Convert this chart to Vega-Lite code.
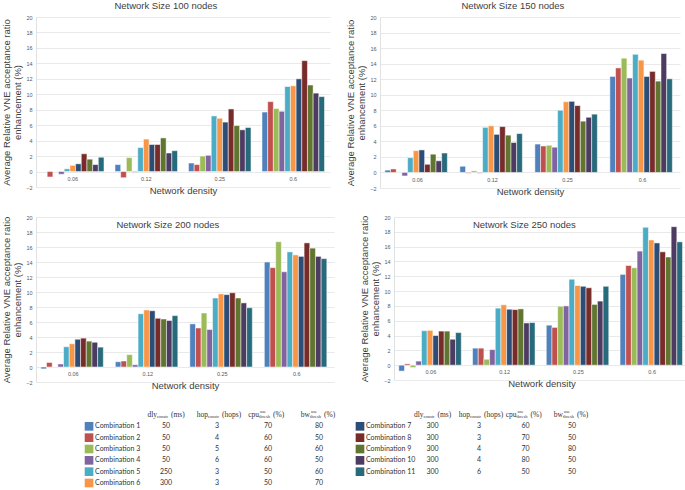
{
  "$schema": "https://vega.github.io/schema/vega-lite/v6.json",
  "padding": {"left": 1, "top": 0, "right": 0, "bottom": 0},
  "datasets": {
    "bars": [
      {"size":"100","density":"0.06","combo":"Combination 1","value":0},
      {"size":"100","density":"0.06","combo":"Combination 2","value":-0.7},
      {"size":"100","density":"0.06","combo":"Combination 3","value":0},
      {"size":"100","density":"0.06","combo":"Combination 4","value":-0.35},
      {"size":"100","density":"0.06","combo":"Combination 5","value":0.35},
      {"size":"100","density":"0.06","combo":"Combination 6","value":0.8},
      {"size":"100","density":"0.06","combo":"Combination 7","value":1.0},
      {"size":"100","density":"0.06","combo":"Combination 8","value":2.3},
      {"size":"100","density":"0.06","combo":"Combination 9","value":1.6},
      {"size":"100","density":"0.06","combo":"Combination 10","value":0.9},
      {"size":"100","density":"0.06","combo":"Combination 11","value":1.85},
      {"size":"100","density":"0.12","combo":"Combination 1","value":0.9},
      {"size":"100","density":"0.12","combo":"Combination 2","value":-0.8},
      {"size":"100","density":"0.12","combo":"Combination 3","value":1.8},
      {"size":"100","density":"0.12","combo":"Combination 4","value":-0.1},
      {"size":"100","density":"0.12","combo":"Combination 5","value":3.1},
      {"size":"100","density":"0.12","combo":"Combination 6","value":4.2},
      {"size":"100","density":"0.12","combo":"Combination 7","value":3.5},
      {"size":"100","density":"0.12","combo":"Combination 8","value":3.5},
      {"size":"100","density":"0.12","combo":"Combination 9","value":4.35},
      {"size":"100","density":"0.12","combo":"Combination 10","value":2.4},
      {"size":"100","density":"0.12","combo":"Combination 11","value":2.7},
      {"size":"100","density":"0.25","combo":"Combination 1","value":1.1},
      {"size":"100","density":"0.25","combo":"Combination 2","value":0.9},
      {"size":"100","density":"0.25","combo":"Combination 3","value":2.0},
      {"size":"100","density":"0.25","combo":"Combination 4","value":2.1},
      {"size":"100","density":"0.25","combo":"Combination 5","value":7.2},
      {"size":"100","density":"0.25","combo":"Combination 6","value":6.9},
      {"size":"100","density":"0.25","combo":"Combination 7","value":6.4},
      {"size":"100","density":"0.25","combo":"Combination 8","value":8.1},
      {"size":"100","density":"0.25","combo":"Combination 9","value":5.95},
      {"size":"100","density":"0.25","combo":"Combination 10","value":5.4},
      {"size":"100","density":"0.25","combo":"Combination 11","value":5.7},
      {"size":"100","density":"0.6","combo":"Combination 1","value":7.7},
      {"size":"100","density":"0.6","combo":"Combination 2","value":9.05},
      {"size":"100","density":"0.6","combo":"Combination 3","value":8.15},
      {"size":"100","density":"0.6","combo":"Combination 4","value":7.8},
      {"size":"100","density":"0.6","combo":"Combination 5","value":11.0},
      {"size":"100","density":"0.6","combo":"Combination 6","value":11.1},
      {"size":"100","density":"0.6","combo":"Combination 7","value":12.0},
      {"size":"100","density":"0.6","combo":"Combination 8","value":14.35},
      {"size":"100","density":"0.6","combo":"Combination 9","value":11.2},
      {"size":"100","density":"0.6","combo":"Combination 10","value":10.15},
      {"size":"100","density":"0.6","combo":"Combination 11","value":9.7},

      {"size":"150","density":"0.06","combo":"Combination 1","value":0.3},
      {"size":"150","density":"0.06","combo":"Combination 2","value":0.45},
      {"size":"150","density":"0.06","combo":"Combination 3","value":0.05},
      {"size":"150","density":"0.06","combo":"Combination 4","value":-0.45},
      {"size":"150","density":"0.06","combo":"Combination 5","value":1.9},
      {"size":"150","density":"0.06","combo":"Combination 6","value":2.8},
      {"size":"150","density":"0.06","combo":"Combination 7","value":2.9},
      {"size":"150","density":"0.06","combo":"Combination 8","value":1.05},
      {"size":"150","density":"0.06","combo":"Combination 9","value":2.35},
      {"size":"150","density":"0.06","combo":"Combination 10","value":1.5},
      {"size":"150","density":"0.06","combo":"Combination 11","value":2.5},
      {"size":"150","density":"0.12","combo":"Combination 1","value":0.8},
      {"size":"150","density":"0.12","combo":"Combination 2","value":-0.1},
      {"size":"150","density":"0.12","combo":"Combination 3","value":0.2},
      {"size":"150","density":"0.12","combo":"Combination 4","value":-0.1},
      {"size":"150","density":"0.12","combo":"Combination 5","value":5.8},
      {"size":"150","density":"0.12","combo":"Combination 6","value":6.0},
      {"size":"150","density":"0.12","combo":"Combination 7","value":4.9},
      {"size":"150","density":"0.12","combo":"Combination 8","value":5.9},
      {"size":"150","density":"0.12","combo":"Combination 9","value":4.8},
      {"size":"150","density":"0.12","combo":"Combination 10","value":3.85},
      {"size":"150","density":"0.12","combo":"Combination 11","value":5.0},
      {"size":"150","density":"0.25","combo":"Combination 1","value":3.65},
      {"size":"150","density":"0.25","combo":"Combination 2","value":3.4},
      {"size":"150","density":"0.25","combo":"Combination 3","value":3.5},
      {"size":"150","density":"0.25","combo":"Combination 4","value":3.25},
      {"size":"150","density":"0.25","combo":"Combination 5","value":8.0},
      {"size":"150","density":"0.25","combo":"Combination 6","value":9.1},
      {"size":"150","density":"0.25","combo":"Combination 7","value":9.15},
      {"size":"150","density":"0.25","combo":"Combination 8","value":8.6},
      {"size":"150","density":"0.25","combo":"Combination 9","value":6.6},
      {"size":"150","density":"0.25","combo":"Combination 10","value":7.1},
      {"size":"150","density":"0.25","combo":"Combination 11","value":7.5},
      {"size":"150","density":"0.6","combo":"Combination 1","value":12.35},
      {"size":"150","density":"0.6","combo":"Combination 2","value":13.45},
      {"size":"150","density":"0.6","combo":"Combination 3","value":14.7},
      {"size":"150","density":"0.6","combo":"Combination 4","value":12.15},
      {"size":"150","density":"0.6","combo":"Combination 5","value":15.2},
      {"size":"150","density":"0.6","combo":"Combination 6","value":14.45},
      {"size":"150","density":"0.6","combo":"Combination 7","value":12.35},
      {"size":"150","density":"0.6","combo":"Combination 8","value":13.0},
      {"size":"150","density":"0.6","combo":"Combination 9","value":11.75},
      {"size":"150","density":"0.6","combo":"Combination 10","value":15.3},
      {"size":"150","density":"0.6","combo":"Combination 11","value":12.05},

      {"size":"200","density":"0.06","combo":"Combination 1","value":-0.25},
      {"size":"200","density":"0.06","combo":"Combination 2","value":0.6},
      {"size":"200","density":"0.06","combo":"Combination 3","value":-0.05},
      {"size":"200","density":"0.06","combo":"Combination 4","value":0.4},
      {"size":"200","density":"0.06","combo":"Combination 5","value":2.7},
      {"size":"200","density":"0.06","combo":"Combination 6","value":3.1},
      {"size":"200","density":"0.06","combo":"Combination 7","value":3.7},
      {"size":"200","density":"0.06","combo":"Combination 8","value":3.85},
      {"size":"200","density":"0.06","combo":"Combination 9","value":3.45},
      {"size":"200","density":"0.06","combo":"Combination 10","value":3.3},
      {"size":"200","density":"0.06","combo":"Combination 11","value":2.65},
      {"size":"200","density":"0.12","combo":"Combination 1","value":0.7},
      {"size":"200","density":"0.12","combo":"Combination 2","value":0.8},
      {"size":"200","density":"0.12","combo":"Combination 3","value":1.65},
      {"size":"200","density":"0.12","combo":"Combination 4","value":0.3},
      {"size":"200","density":"0.12","combo":"Combination 5","value":7.1},
      {"size":"200","density":"0.12","combo":"Combination 6","value":7.6},
      {"size":"200","density":"0.12","combo":"Combination 7","value":7.5},
      {"size":"200","density":"0.12","combo":"Combination 8","value":6.5},
      {"size":"200","density":"0.12","combo":"Combination 9","value":6.4},
      {"size":"200","density":"0.12","combo":"Combination 10","value":6.2},
      {"size":"200","density":"0.12","combo":"Combination 11","value":6.85},
      {"size":"200","density":"0.25","combo":"Combination 1","value":5.75},
      {"size":"200","density":"0.25","combo":"Combination 2","value":5.2},
      {"size":"200","density":"0.25","combo":"Combination 3","value":7.2},
      {"size":"200","density":"0.25","combo":"Combination 4","value":5.0},
      {"size":"200","density":"0.25","combo":"Combination 5","value":9.2},
      {"size":"200","density":"0.25","combo":"Combination 6","value":9.75},
      {"size":"200","density":"0.25","combo":"Combination 7","value":9.65},
      {"size":"200","density":"0.25","combo":"Combination 8","value":9.9},
      {"size":"200","density":"0.25","combo":"Combination 9","value":9.2},
      {"size":"200","density":"0.25","combo":"Combination 10","value":8.55},
      {"size":"200","density":"0.25","combo":"Combination 11","value":7.9},
      {"size":"200","density":"0.6","combo":"Combination 1","value":14.0},
      {"size":"200","density":"0.6","combo":"Combination 2","value":13.25},
      {"size":"200","density":"0.6","combo":"Combination 3","value":16.7},
      {"size":"200","density":"0.6","combo":"Combination 4","value":12.7},
      {"size":"200","density":"0.6","combo":"Combination 5","value":15.35},
      {"size":"200","density":"0.6","combo":"Combination 6","value":14.95},
      {"size":"200","density":"0.6","combo":"Combination 7","value":14.75},
      {"size":"200","density":"0.6","combo":"Combination 8","value":16.55},
      {"size":"200","density":"0.6","combo":"Combination 9","value":15.85},
      {"size":"200","density":"0.6","combo":"Combination 10","value":14.75},
      {"size":"200","density":"0.6","combo":"Combination 11","value":14.45},

      {"size":"250","density":"0.06","combo":"Combination 1","value":-0.8},
      {"size":"250","density":"0.06","combo":"Combination 2","value":0.18},
      {"size":"250","density":"0.06","combo":"Combination 3","value":-0.3},
      {"size":"250","density":"0.06","combo":"Combination 4","value":0.55},
      {"size":"250","density":"0.06","combo":"Combination 5","value":4.65},
      {"size":"250","density":"0.06","combo":"Combination 6","value":4.7},
      {"size":"250","density":"0.06","combo":"Combination 7","value":4.0},
      {"size":"250","density":"0.06","combo":"Combination 8","value":4.6},
      {"size":"250","density":"0.06","combo":"Combination 9","value":4.6},
      {"size":"250","density":"0.06","combo":"Combination 10","value":3.5},
      {"size":"250","density":"0.06","combo":"Combination 11","value":4.4},
      {"size":"250","density":"0.12","combo":"Combination 1","value":2.3},
      {"size":"250","density":"0.12","combo":"Combination 2","value":2.3},
      {"size":"250","density":"0.12","combo":"Combination 3","value":0.8},
      {"size":"250","density":"0.12","combo":"Combination 4","value":2.1},
      {"size":"250","density":"0.12","combo":"Combination 5","value":7.7},
      {"size":"250","density":"0.12","combo":"Combination 6","value":8.15},
      {"size":"250","density":"0.12","combo":"Combination 7","value":7.55},
      {"size":"250","density":"0.12","combo":"Combination 8","value":7.5},
      {"size":"250","density":"0.12","combo":"Combination 9","value":7.6},
      {"size":"250","density":"0.12","combo":"Combination 10","value":5.7},
      {"size":"250","density":"0.12","combo":"Combination 11","value":5.75},
      {"size":"250","density":"0.25","combo":"Combination 1","value":5.4},
      {"size":"250","density":"0.25","combo":"Combination 2","value":5.1},
      {"size":"250","density":"0.25","combo":"Combination 3","value":7.95},
      {"size":"250","density":"0.25","combo":"Combination 4","value":8.0},
      {"size":"250","density":"0.25","combo":"Combination 5","value":11.6},
      {"size":"250","density":"0.25","combo":"Combination 6","value":10.75},
      {"size":"250","density":"0.25","combo":"Combination 7","value":10.65},
      {"size":"250","density":"0.25","combo":"Combination 8","value":10.45},
      {"size":"250","density":"0.25","combo":"Combination 9","value":8.2},
      {"size":"250","density":"0.25","combo":"Combination 10","value":8.65},
      {"size":"250","density":"0.25","combo":"Combination 11","value":10.65},
      {"size":"250","density":"0.6","combo":"Combination 1","value":12.25},
      {"size":"250","density":"0.6","combo":"Combination 2","value":13.45},
      {"size":"250","density":"0.6","combo":"Combination 3","value":13.15},
      {"size":"250","density":"0.6","combo":"Combination 4","value":15.4},
      {"size":"250","density":"0.6","combo":"Combination 5","value":18.6},
      {"size":"250","density":"0.6","combo":"Combination 6","value":16.9},
      {"size":"250","density":"0.6","combo":"Combination 7","value":16.5},
      {"size":"250","density":"0.6","combo":"Combination 8","value":15.3},
      {"size":"250","density":"0.6","combo":"Combination 9","value":14.6},
      {"size":"250","density":"0.6","combo":"Combination 10","value":18.7},
      {"size":"250","density":"0.6","combo":"Combination 11","value":16.65}
    ],
    "combos": [
      {"combo":"Combination 1","side":"left","dly":"50","hop":"3","cpu":"70","bw":"80"},
      {"combo":"Combination 2","side":"left","dly":"50","hop":"4","cpu":"60","bw":"50"},
      {"combo":"Combination 3","side":"left","dly":"50","hop":"5","cpu":"60","bw":"60"},
      {"combo":"Combination 4","side":"left","dly":"50","hop":"6","cpu":"60","bw":"50"},
      {"combo":"Combination 5","side":"left","dly":"250","hop":"3","cpu":"50","bw":"60"},
      {"combo":"Combination 6","side":"left","dly":"300","hop":"3","cpu":"50","bw":"70"},
      {"combo":"Combination 7","side":"right","dly":"300","hop":"3","cpu":"60","bw":"50"},
      {"combo":"Combination 8","side":"right","dly":"300","hop":"3","cpu":"70","bw":"50"},
      {"combo":"Combination 9","side":"right","dly":"300","hop":"4","cpu":"70","bw":"80"},
      {"combo":"Combination 10","side":"right","dly":"300","hop":"4","cpu":"80","bw":"50"},
      {"combo":"Combination 11","side":"right","dly":"300","hop":"6","cpu":"50","bw":"50"}
    ],
    "headers": [
      {"col":"dly","main":"dly","sub":"constr","sup":"","unit":"(ms)"},
      {"col":"hop","main":"hop","sub":"constr","sup":"","unit":"(hops)"},
      {"col":"cpu","main":"cpu","sub":"thresh","sup":"use","unit":"(%)"},
      {"col":"bw","main":"bw","sub":"thresh","sup":"use","unit":"(%)"}
    ]
  },
  "vconcat": [
    {
      "hconcat": [
        {
          "width": 294, "height": 170,
          "title": {"text": "Network Size 100 nodes", "frame": "bounds", "offset": 5},
          "data": {"name": "bars"},
          "transform": [{"filter": "datum.size == '100'"}],
          "mark": {"type": "bar", "stroke": "#ffffff", "strokeWidth": 0.5},
          "encoding": {
            "x": {"field": "density", "type": "nominal", "sort": ["0.06","0.12","0.25","0.6"], "scale": {"paddingInner": 0.15, "paddingOuter": 0.075}, "axis": {"title": "Network density"}},
            "xOffset": {"field": "combo", "type": "nominal", "sort": ["Combination 1","Combination 2","Combination 3","Combination 4","Combination 5","Combination 6","Combination 7","Combination 8","Combination 9","Combination 10","Combination 11"], "scale": {"paddingInner": 0, "paddingOuter": 0}},
            "y": {"field": "value", "type": "quantitative", "scale": {"domain": [-2, 20], "nice": false, "zero": false}, "axis": {"values": [-2,0,2,4,6,8,10,12,14,16,18,20], "title": ["Average Relative VNE acceptance ratio", "enhancement (%)"]}},
            "color": {"field": "combo", "type": "nominal", "scale": {"domain": ["Combination 1","Combination 2","Combination 3","Combination 4","Combination 5","Combination 6","Combination 7","Combination 8","Combination 9","Combination 10","Combination 11"], "range": ["#4F81BD","#C0504D","#9BBB59","#8064A2","#4BACC6","#F79646","#2C4D75","#772C2A","#5F7530","#4D3B62","#276A7C"]}, "legend": null}
          }
        },
        {
          "width": 300, "height": 171,
          "title": {"text": "Network Size 150 nodes", "frame": "bounds", "offset": 5},
          "data": {"name": "bars"},
          "transform": [{"filter": "datum.size == '150'"}],
          "mark": {"type": "bar", "stroke": "#ffffff", "strokeWidth": 0.5},
          "encoding": {
            "x": {"field": "density", "type": "nominal", "sort": ["0.06","0.12","0.25","0.6"], "scale": {"paddingInner": 0.13, "paddingOuter": 0.065}, "axis": {"title": "Network density"}},
            "xOffset": {"field": "combo", "type": "nominal", "sort": ["Combination 1","Combination 2","Combination 3","Combination 4","Combination 5","Combination 6","Combination 7","Combination 8","Combination 9","Combination 10","Combination 11"], "scale": {"paddingInner": 0, "paddingOuter": 0}},
            "y": {"field": "value", "type": "quantitative", "scale": {"domain": [-2, 20], "nice": false, "zero": false}, "axis": {"values": [-2,0,2,4,6,8,10,12,14,16,18,20], "title": ["Average Relative VNE acceptance ratio", "enhancement (%)"]}},
            "color": {"field": "combo", "type": "nominal", "scale": {"domain": ["Combination 1","Combination 2","Combination 3","Combination 4","Combination 5","Combination 6","Combination 7","Combination 8","Combination 9","Combination 10","Combination 11"], "range": ["#4F81BD","#C0504D","#9BBB59","#8064A2","#4BACC6","#F79646","#2C4D75","#772C2A","#5F7530","#4D3B62","#276A7C"]}, "legend": null}
          }
        }
      ],
      "spacing": 15
    },
    {
      "hconcat": [
        {
          "width": 298, "height": 165,
          "title": {"text": "Network Size 200 nodes", "frame": "bounds", "offset": -14},
          "data": {"name": "bars"},
          "transform": [{"filter": "datum.size == '200'"}],
          "mark": {"type": "bar", "stroke": "#ffffff", "strokeWidth": 0.5},
          "encoding": {
            "x": {"field": "density", "type": "nominal", "sort": ["0.06","0.12","0.25","0.6"], "scale": {"paddingInner": 0.13, "paddingOuter": 0.065}, "axis": {"title": "Network density"}},
            "xOffset": {"field": "combo", "type": "nominal", "sort": ["Combination 1","Combination 2","Combination 3","Combination 4","Combination 5","Combination 6","Combination 7","Combination 8","Combination 9","Combination 10","Combination 11"], "scale": {"paddingInner": 0, "paddingOuter": 0}},
            "y": {"field": "value", "type": "quantitative", "scale": {"domain": [-2, 20], "nice": false, "zero": false}, "axis": {"values": [-2,0,2,4,6,8,10,12,14,16,18,20], "title": ["Average Relative VNE acceptance ratio", "enhancement (%)"]}},
            "color": {"field": "combo", "type": "nominal", "scale": {"domain": ["Combination 1","Combination 2","Combination 3","Combination 4","Combination 5","Combination 6","Combination 7","Combination 8","Combination 9","Combination 10","Combination 11"], "range": ["#4F81BD","#C0504D","#9BBB59","#8064A2","#4BACC6","#F79646","#2C4D75","#772C2A","#5F7530","#4D3B62","#276A7C"]}, "legend": null}
          }
        },
        {
          "width": 295, "height": 163,
          "title": {"text": "Network Size 250 nodes", "frame": "bounds", "offset": -14},
          "data": {"name": "bars"},
          "transform": [{"filter": "datum.size == '250'"}],
          "mark": {"type": "bar", "stroke": "#ffffff", "strokeWidth": 0.5},
          "encoding": {
            "x": {"field": "density", "type": "nominal", "sort": ["0.06","0.12","0.25","0.6"], "scale": {"paddingInner": 0.13, "paddingOuter": 0.065}, "axis": {"title": "Network density"}},
            "xOffset": {"field": "combo", "type": "nominal", "sort": ["Combination 1","Combination 2","Combination 3","Combination 4","Combination 5","Combination 6","Combination 7","Combination 8","Combination 9","Combination 10","Combination 11"], "scale": {"paddingInner": 0, "paddingOuter": 0}},
            "y": {"field": "value", "type": "quantitative", "scale": {"domain": [-2, 20], "nice": false, "zero": false}, "axis": {"values": [-2,0,2,4,6,8,10,12,14,16,18,20], "title": ["Average Relative VNE acceptance ratio", "enhancement (%)"]}},
            "color": {"field": "combo", "type": "nominal", "scale": {"domain": ["Combination 1","Combination 2","Combination 3","Combination 4","Combination 5","Combination 6","Combination 7","Combination 8","Combination 9","Combination 10","Combination 11"], "range": ["#4F81BD","#C0504D","#9BBB59","#8064A2","#4BACC6","#F79646","#2C4D75","#772C2A","#5F7530","#4D3B62","#276A7C"]}, "legend": null}
          }
        }
      ],
      "spacing": 25
    },
    {
      "hconcat": [
        {
          "width": 283, "height": 68,
          "layer": [
            {
              "data": {"name": "combos"},
              "transform": [{"filter": "datum.side == 'left'"}],
              "mark": {"type": "point", "shape": "square", "filled": true, "size": 75, "opacity": 1},
              "encoding": {
                "x": {"datum": "name", "type": "nominal", "scale": {"type": "point", "domain": ["name","dly","hop","cpu","bw"], "padding": 0.775, "align": 1}, "axis": null},
                "xOffset": {"value": -26},
                "y": {"field": "combo", "type": "nominal", "scale": {"type": "point", "domain": ["header","Combination 1","Combination 2","Combination 3","Combination 4","Combination 5","Combination 6"], "padding": 0}, "axis": null},
                "color": {"field": "combo", "type": "nominal", "scale": {"domain": ["Combination 1","Combination 2","Combination 3","Combination 4","Combination 5","Combination 6","Combination 7","Combination 8","Combination 9","Combination 10","Combination 11"], "range": ["#4F81BD","#C0504D","#9BBB59","#8064A2","#4BACC6","#F79646","#2C4D75","#772C2A","#5F7530","#4D3B62","#276A7C"]}, "legend": null}
              }
            },
            {
              "data": {"name": "combos"},
              "transform": [{"filter": "datum.side == 'left'"}],
              "mark": {"type": "text", "fontSize": 7, "align": "left", "dx": -20, "baseline": "middle", "font": "Lato", "color": "#333333"},
              "encoding": {
                "x": {"datum": "name", "type": "nominal"},
                "y": {"field": "combo", "type": "nominal"},
                "text": {"field": "combo"}
              }
            },
            {
              "data": {"name": "combos"},
              "transform": [{"filter": "datum.side == 'left'"}, {"fold": ["dly","hop","cpu","bw"], "as": ["col","val"]}],
              "mark": {"type": "text", "fontSize": 7, "align": "center", "baseline": "middle", "font": "Lato", "color": "#333333"},
              "encoding": {
                "x": {"field": "col", "type": "nominal"},
                "y": {"field": "combo", "type": "nominal"},
                "text": {"field": "val"}
              }
            },
            {
              "data": {"name": "headers"},
              "mark": {"type": "text", "fontSize": 7.5, "align": "right", "dx": -9, "baseline": "middle", "font": "Liberation Serif", "color": "#333333"},
              "encoding": {"x": {"field": "col", "type": "nominal"}, "y": {"datum": "header", "type": "nominal"}, "text": {"field": "main"}}
            },
            {
              "data": {"name": "headers"},
              "mark": {"type": "text", "fontSize": 4.5, "align": "left", "dx": -9, "dy": 2, "baseline": "middle", "font": "Liberation Serif", "color": "#333333"},
              "encoding": {"x": {"field": "col", "type": "nominal"}, "y": {"datum": "header", "type": "nominal"}, "text": {"field": "sub"}}
            },
            {
              "data": {"name": "headers"},
              "mark": {"type": "text", "fontSize": 4.5, "align": "left", "dx": -8, "dy": -3, "baseline": "middle", "font": "Liberation Serif", "color": "#333333"},
              "encoding": {"x": {"field": "col", "type": "nominal"}, "y": {"datum": "header", "type": "nominal"}, "text": {"field": "sup"}}
            },
            {
              "data": {"name": "headers"},
              "mark": {"type": "text", "fontSize": 7.5, "align": "left", "dx": 5, "baseline": "middle", "font": "Liberation Serif", "color": "#333333"},
              "encoding": {"x": {"field": "col", "type": "nominal"}, "y": {"datum": "header", "type": "nominal"}, "text": {"field": "unit"}}
            }
          ]
        },
        {
          "width": 222, "height": 56.7,
          "layer": [
            {
              "data": {"name": "combos"},
              "transform": [{"filter": "datum.side == 'right'"}],
              "mark": {"type": "point", "shape": "square", "filled": true, "size": 75, "opacity": 1},
              "encoding": {
                "x": {"datum": "name", "type": "nominal", "scale": {"type": "point", "domain": ["name","dly","hop","cpu","bw"], "padding": 0.387, "align": 1}, "axis": null},
                "xOffset": {"value": -26},
                "y": {"field": "combo", "type": "nominal", "scale": {"type": "point", "domain": ["header","Combination 7","Combination 8","Combination 9","Combination 10","Combination 11"], "padding": 0}, "axis": null},
                "color": {"field": "combo", "type": "nominal", "scale": {"domain": ["Combination 1","Combination 2","Combination 3","Combination 4","Combination 5","Combination 6","Combination 7","Combination 8","Combination 9","Combination 10","Combination 11"], "range": ["#4F81BD","#C0504D","#9BBB59","#8064A2","#4BACC6","#F79646","#2C4D75","#772C2A","#5F7530","#4D3B62","#276A7C"]}, "legend": null}
              }
            },
            {
              "data": {"name": "combos"},
              "transform": [{"filter": "datum.side == 'right'"}],
              "mark": {"type": "text", "fontSize": 7, "align": "left", "dx": -20, "baseline": "middle", "font": "Lato", "color": "#333333"},
              "encoding": {
                "x": {"datum": "name", "type": "nominal"},
                "y": {"field": "combo", "type": "nominal"},
                "text": {"field": "combo"}
              }
            },
            {
              "data": {"name": "combos"},
              "transform": [{"filter": "datum.side == 'right'"}, {"fold": ["dly","hop","cpu","bw"], "as": ["col","val"]}],
              "mark": {"type": "text", "fontSize": 7, "align": "center", "baseline": "middle", "font": "Lato", "color": "#333333"},
              "encoding": {
                "x": {"field": "col", "type": "nominal"},
                "y": {"field": "combo", "type": "nominal"},
                "text": {"field": "val"}
              }
            },
            {
              "data": {"name": "headers"},
              "mark": {"type": "text", "fontSize": 7.5, "align": "right", "dx": -9, "baseline": "middle", "font": "Liberation Serif", "color": "#333333"},
              "encoding": {"x": {"field": "col", "type": "nominal"}, "y": {"datum": "header", "type": "nominal"}, "text": {"field": "main"}}
            },
            {
              "data": {"name": "headers"},
              "mark": {"type": "text", "fontSize": 4.5, "align": "left", "dx": -9, "dy": 2, "baseline": "middle", "font": "Liberation Serif", "color": "#333333"},
              "encoding": {"x": {"field": "col", "type": "nominal"}, "y": {"datum": "header", "type": "nominal"}, "text": {"field": "sub"}}
            },
            {
              "data": {"name": "headers"},
              "mark": {"type": "text", "fontSize": 4.5, "align": "left", "dx": -8, "dy": -3, "baseline": "middle", "font": "Liberation Serif", "color": "#333333"},
              "encoding": {"x": {"field": "col", "type": "nominal"}, "y": {"datum": "header", "type": "nominal"}, "text": {"field": "sup"}}
            },
            {
              "data": {"name": "headers"},
              "mark": {"type": "text", "fontSize": 7.5, "align": "left", "dx": 5, "baseline": "middle", "font": "Liberation Serif", "color": "#333333"},
              "encoding": {"x": {"field": "col", "type": "nominal"}, "y": {"datum": "header", "type": "nominal"}, "text": {"field": "unit"}}
            }
          ]
        }
      ],
      "spacing": 14
    }
  ],
  "spacing": 19,
  "config": {
    "font": "Liberation Sans",
    "view": {"stroke": null},
    "title": {"fontSize": 9.5, "fontWeight": "normal", "color": "#404040", "font": "Liberation Sans", "anchor": "middle"},
    "axis": {"titleFontSize": 9.5, "titleFontWeight": "normal", "titleColor": "#404040", "titleFont": "Liberation Sans", "labelFont": "Liberation Sans", "labelFontSize": 5.5, "labelColor": "#595959", "ticks": false},
    "axisX": {"domain": false, "grid": false, "offset": -12, "labelPadding": 1, "titlePadding": 4, "labelAngle": 0},
    "axisY": {"domain": true, "domainColor": "#d9d9d9", "domainWidth": 0.8, "gridColor": "#e3e3e3", "gridWidth": 0.8, "labelPadding": 4, "titlePadding": 3, "titleLineHeight": 11}
  }
}
